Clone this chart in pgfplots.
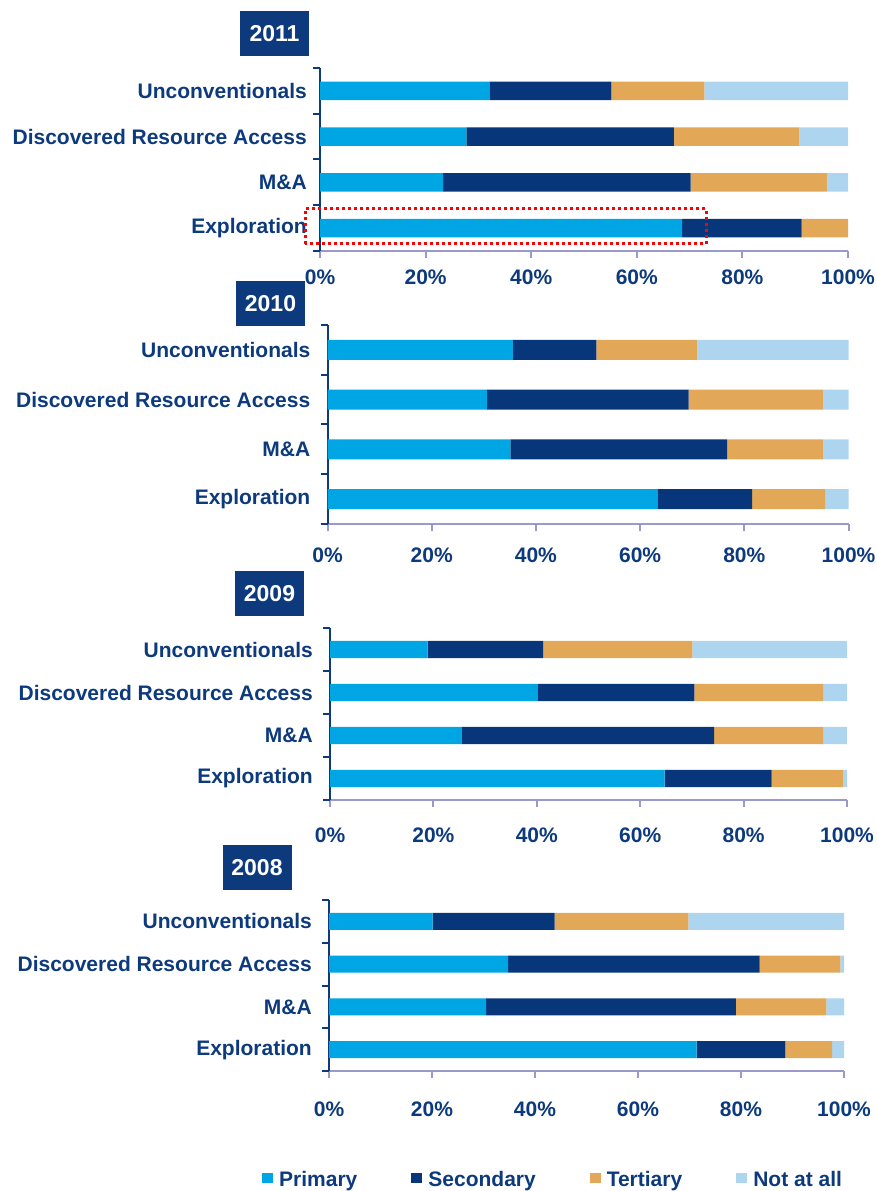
\documentclass[border=0pt]{standalone}
\usepackage{pgfplots}
\pgfplotsset{compat=1.18}
\usepackage{fontspec}
\setmainfont{Liberation Sans}
\definecolor{cprim}{HTML}{00A5E3}
\definecolor{csec}{HTML}{08367B}
\definecolor{cter}{HTML}{E2A857}
\definecolor{cnot}{HTML}{AED5F0}
\definecolor{navy}{HTML}{0C3A7D}
\definecolor{xline}{HTML}{9999CC}
\newcommand\lf{\fontsize{21}{25}\selectfont\bfseries}
\newcommand\yf{\fontsize{23}{27}\selectfont\bfseries}
\pgfplotsset{
 panel/.style={
  scale only axis, xbar stacked, bar width=0.4, xmin=0, xmax=100, ymin=-0.5, ymax=3.5,
  axis x line*=bottom, axis y line*=left,
  x axis line style={draw=xline, line width=2pt},
  y axis line style={draw=navy, line width=2pt},
  xtick={0,20,40,60,80,100}, xticklabels={0\%,20\%,40\%,60\%,80\%,100\%},
  ytick={-0.5,0.5,1.5,2.5,3.5}, yticklabels={,,,,},
  extra y ticks={0,1,2,3},
  extra y tick labels={Exploration,M\&A,Discovered Resource Access,Unconventionals},
  extra y tick style={major tick length=0pt},
  tick align=outside, major tick length=7pt,
  xtick style={draw=xline, line width=2pt},
  ytick style={draw=navy, line width=2pt},
  tick label style={font=\lf, text=navy, inner sep=0pt},
  yticklabel style={anchor=east, xshift=-17pt},
  xticklabel style={anchor=north},
  clip=false, anchor=south west,
  every axis plot/.append style={draw=none},
 },
 mylegend/.style={legend image code/.code={\fill[##1] (0pt,-3pt) rectangle (11pt,7pt);}},
}
\begin{document}
\begin{tikzpicture}
\useasboundingbox (0pt,0pt) rectangle (876pt,1191pt);
% 2011
\begin{axis}[panel, at={(320pt,940pt)}, width=528pt, height=183pt, xticklabel style={yshift=-12pt},
  yticklabel style={xshift=4pt}]
\addplot[fill=cprim] coordinates {(68.6,0) (23.3,1) (27.7,2) (32.1,3)};
\addplot[fill=csec] coordinates {(22.6,0) (46.9,1) (39.3,2) (23.1,3)};
\addplot[fill=cter] coordinates {(8.8,0) (25.9,1) (23.8,2) (17.6,3)};
\addplot[fill=cnot] coordinates {(0,0) (3.9,1) (9.2,2) (27.2,3)};
\end{axis}
% 2010
\begin{axis}[panel, at={(327.5pt,667pt)}, width=521pt, height=199pt, xticklabel style={yshift=-17pt}]
\addplot[fill=cprim] coordinates {(63.3,0) (35.1,1) (30.6,2) (35.6,3)};
\addplot[fill=csec] coordinates {(18.2,0) (41.6,1) (38.7,2) (16.0,3)};
\addplot[fill=cter] coordinates {(14.0,0) (18.4,1) (25.8,2) (19.3,3)};
\addplot[fill=cnot] coordinates {(4.5,0) (4.9,1) (4.9,2) (29.1,3)};
\end{axis}
% 2009
\begin{axis}[panel, at={(330pt,391pt)}, width=517pt, height=172pt, xticklabel style={yshift=-21pt}]
\addplot[fill=cprim] coordinates {(64.7,0) (25.5,1) (40.1,2) (18.9,3)};
\addplot[fill=csec] coordinates {(20.7,0) (48.8,1) (30.4,2) (22.3,3)};
\addplot[fill=cter] coordinates {(13.8,0) (21.1,1) (24.9,2) (28.9,3)};
\addplot[fill=cnot] coordinates {(0.8,0) (4.6,1) (4.6,2) (29.9,3)};
\end{axis}
% 2008
\begin{axis}[panel, at={(329pt,120pt)}, width=515pt, height=171pt, xticklabel style={yshift=-24pt},
  legend columns=4,
  legend style={at={(-0.1301,-0.686)}, anchor=south west, draw=none, fill=none, inner sep=0pt,
    font=\lf, text=navy, nodes={inner sep=0pt},
    /tikz/every odd column/.append style={column sep=6pt},
    /tikz/every even column/.append style={column sep=54pt}},
  legend cell align=left]
\addplot[fill=cprim, mylegend] coordinates {(71.4,0) (30.5,1) (34.8,2) (20.1,3)};
\addplot[fill=csec, mylegend] coordinates {(17.2,0) (48.5,1) (48.8,2) (23.7,3)};
\addplot[fill=cter, mylegend] coordinates {(9.1,0) (17.6,1) (15.7,2) (26.0,3)};
\addplot[fill=cnot, mylegend] coordinates {(2.3,0) (3.4,1) (0.7,2) (30.2,3)};
\legend{Primary,Secondary,Tertiary,Not at all}
\end{axis}
% year boxes
\tikzset{yearbox/.style={fill=navy, text=white, font=\yf, minimum width=69pt, minimum height=45pt, inner sep=0pt}}
\node[yearbox] at (274.5pt,1157.7pt) {2011};
\node[yearbox] at (270.5pt,887.3pt) {2010};
\node[yearbox] at (269.5pt,597.7pt) {2009};
\node[yearbox] at (257pt,323pt) {2008};
% highlight
\draw[red, line width=3pt, dash pattern=on 3pt off 3pt] (305pt,947pt) rectangle (706pt,982pt);
\end{tikzpicture}
\end{document}
